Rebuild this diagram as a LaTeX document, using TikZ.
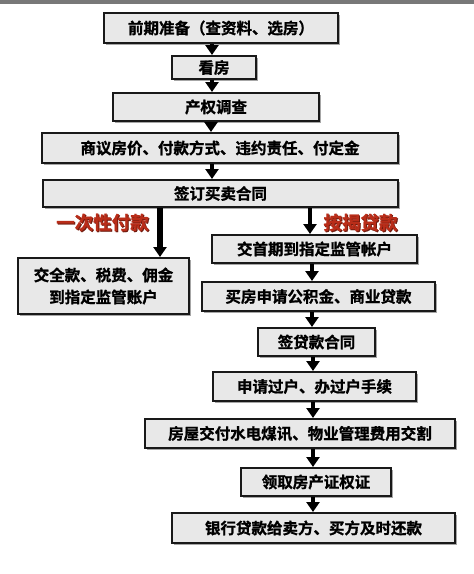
\documentclass[tikz,border=0pt]{standalone}
\usepackage{fontspec}
\newfontfamily\cjk{Noto Sans CJK SC}[BoldFont={* Bold}, BoldFeatures={FakeBold=1.2}]
\usetikzlibrary{arrows.meta,shadows}
\definecolor{boxfill}{RGB}{232,232,232}
\definecolor{boxline}{RGB}{25,25,25}
\definecolor{redlab}{RGB}{185,45,25}
\definecolor{topbar}{RGB}{120,120,120}
\tikzset{
  stepbox/.style={draw=boxline, line width=2pt, fill=boxfill, rectangle, inner sep=0pt,
    font=\cjk\bfseries\fontsize{15.5}{22}\selectfont, align=center,
    drop shadow={shadow xshift=1.5pt, shadow yshift=-1.5pt, fill=gray!70, opacity=1}},
  arr/.style={line width=4.5pt, draw=black, -{Triangle[width=13pt,length=10pt]}},
  redlabel/.style={text=redlab, font=\cjk\bfseries\fontsize{18.5}{20}\selectfont, inner sep=0pt}
}
\begin{document}
\begin{tikzpicture}[x=1pt,y=-1pt]
\useasboundingbox (0,0) rectangle (474,574);
\fill[white] (0,0) rectangle (474,574);
\fill[topbar] (0,0) rectangle (474,4);
% main column
\node[stepbox, minimum width=234pt, minimum height=30pt] (b1) at (221,28) {前期准备（查资料、选房）};
\node[stepbox, minimum width=84pt, minimum height=23pt] (b2) at (214,67.5) {看房};
\node[stepbox, minimum width=206pt, minimum height=28pt] (b3) at (216,107) {产权调查};
\node[stepbox, minimum width=356pt, minimum height=30pt] (b4) at (220,148) {商议房价、付款方式、违约责任、付定金};
\node[stepbox, minimum width=355pt, minimum height=27pt] (b5) at (220.5,193.5) {签订买卖合同};
% left branch
\node[stepbox, minimum width=171pt, minimum height=56pt] (L) at (103.5,286) {交全款、税费、佣金\\到指定监管账户};
% right branch
\node[stepbox, minimum width=205pt, minimum height=28pt] (r1) at (314.5,249) {交首期到指定监管帐户};
\node[stepbox, minimum width=233pt, minimum height=29pt] (r2) at (318.5,296.5) {买房申请公积金、商业贷款};
\node[stepbox, minimum width=117pt, minimum height=28pt] (r3) at (316.5,342) {签贷款合同};
\node[stepbox, minimum width=203pt, minimum height=29pt] (r4) at (314.5,386.5) {申请过户、办过户手续};
\node[stepbox, minimum width=310pt, minimum height=29pt] (r5) at (300,433.5) {房屋交付水电煤讯、物业管理费用交割};
\node[stepbox, minimum width=150pt, minimum height=28pt] (r6) at (316,482) {领取房产证权证};
\node[stepbox, minimum width=283pt, minimum height=30pt] (r7) at (313.5,528) {银行贷款给卖方、买方及时还款};
% labels
\node[redlabel, text=redlab!60!black] at (103.5,223.5) {一次性付款};
\node[redlabel] (lab1) at (102.5,222.5) {一次性付款};
\node[redlabel, text=redlab!60!black] at (361.5,223.5) {按揭贷款};
\node[redlabel] (lab2) at (360.5,222.5) {按揭贷款};
% arrows
\draw[arr] (b1.south -| 212,0) -- (b2.north -| 212,0);
\draw[arr] (b2.south -| 212,0) -- (b3.north -| 212,0);
\draw[arr] (b3.south -| 211,0) -- (b4.north -| 211,0);
\draw[arr] (b4.south -| 212,0) -- (b5.north -| 212,0);
\draw[arr, line width=5.5pt] (b5.south -| 160,0) -- (L.north -| 160,0);
\draw[arr] (b5.south -| 310,0) -- (r1.north -| 310,0);
\draw[arr] (r1.south -| 312,0) -- (r2.north -| 312,0);
\draw[arr] (r2.south -| 312,0) -- (r3.north -| 312,0);
\draw[arr] (r3.south -| 313,0) -- (r4.north -| 313,0);
\draw[arr] (r4.south -| 313,0) -- (r5.north -| 313,0);
\draw[arr] (r5.south -| 313,0) -- (r6.north -| 313,0);
\draw[arr] (r6.south -| 313,0) -- (r7.north -| 313,0);
\end{tikzpicture}
\end{document}
